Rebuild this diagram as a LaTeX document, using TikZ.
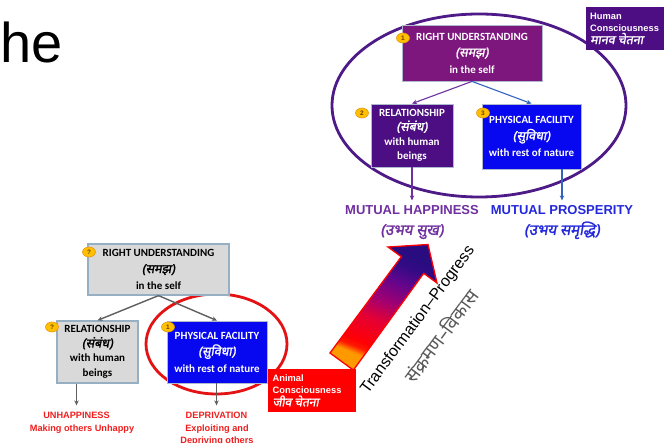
\documentclass[tikz,border=0pt]{standalone}
\usepackage{fontspec}
\usetikzlibrary{shapes.geometric,arrows.meta,calc}
\newfontfamily\arialf{Liberation Sans}
\newfontfamily\calib{Carlito}
\newfontfamily\deva[Script=Devanagari]{Noto Sans}
\newfontfamily\devai[Script=Devanagari,FakeSlant=0.18,FakeBold=1.6]{Noto Sans}
\definecolor{rupurple}{RGB}{125,22,125}
\definecolor{indigoA}{RGB}{76,14,130}
\definecolor{boxblue}{RGB}{8,8,240}
\definecolor{ellpurple}{RGB}{78,26,135}
\definecolor{mhpurple}{RGB}{112,48,160}
\definecolor{mpblue}{RGB}{35,40,220}
\definecolor{arrowpurple}{RGB}{110,50,160}
\definecolor{arrowblue}{RGB}{50,100,190}
\definecolor{redtxt}{RGB}{240,30,30}
\definecolor{ellred}{RGB}{228,18,18}
\definecolor{greyfill}{RGB}{217,217,217}
\definecolor{greyedge}{RGB}{150,175,195}
\definecolor{greyarrow}{RGB}{95,95,95}
\definecolor{badgefill}{RGB}{255,192,0}
\definecolor{badgeedge}{RGB}{225,150,20}
\definecolor{badgetxt}{RGB}{110,60,0}
\definecolor{devagrey}{RGB}{90,90,90}
\definecolor{paleedge}{RGB}{175,185,205}
\pgfdeclareverticalshading{progshade}{100bp}{rgb(0bp)=(1,0.6,0); rgb(27.8bp)=(1,0.6,0); rgb(30.6bp)=(1,0.1,0); rgb(33.3bp)=(1,0,0.02); rgb(43.9bp)=(0.9,0,0.2); rgb(53.1bp)=(0.62,0,0.45); rgb(62.3bp)=(0.38,0.02,0.55); rgb(69.2bp)=(0.2,0.04,0.52); rgb(73.8bp)=(0.16,0.05,0.5); rgb(100bp)=(0.16,0.05,0.5)}
\newcommand{\dvi}[2]{{\mdseries\devai\fontsize{#1}{#1}\selectfont #2}}
\begin{document}
\begin{tikzpicture}[x=1pt,y=-1pt,
  box3/.style={rectangle, inner sep=0pt, align=center, text=white, line width=0.8pt,
    font={\calib\bfseries\fontsize{11}{16.5}\selectfont\lineskiplimit=-100pt\relax}},
  box4/.style={rectangle, inner sep=0pt, align=center, text=white, line width=0.8pt,
    font={\calib\bfseries\fontsize{11}{14.5}\selectfont\lineskiplimit=-100pt\relax}},
  badge/.style={ellipse, fill=badgefill, draw=badgeedge, line width=0.6pt, inner sep=0pt,
    minimum width=13pt, minimum height=10pt, text=badgetxt, font=\arialf\bfseries\fontsize{6.5}{7}\selectfont},
  consbox/.style={rectangle, anchor=west, text=white, align=left, text width=78pt, inner xsep=4pt, inner ysep=0pt,
    minimum height=43pt, font={\arialf\bfseries\fontsize{9.3}{12.5}\selectfont\lineskiplimit=-100pt\relax}},
  redline/.style={anchor=base, inner sep=0pt, text=redtxt, font=\arialf\bfseries\fontsize{9.2}{11}\selectfont},
  parrow/.style={draw=arrowpurple, line width=1.1pt, -{Stealth[length=5pt,width=4.5pt]}},
  barrow/.style={draw=arrowblue, line width=1.1pt, -{Stealth[length=5pt,width=4.5pt]}},
  garrow/.style={draw=greyarrow, line width=1.4pt, -{Stealth[length=5pt,width=4.5pt]}}
]
\fill[white] (0,0) rectangle (664,443);
\useasboundingbox (0,0) rectangle (664,443);

% title fragment
\node[anchor=base west, inner sep=0pt, font=\arialf\fontsize{56}{60}\selectfont] (he) at (0,63) {he};

% ---------- top (human consciousness) ----------
\node[ellipse, draw=ellpurple, line width=2.8pt, inner sep=0pt, minimum width=294pt, minimum height=183pt] (hell) at (479,105.5) {};

\node[box3, fill=rupurple, draw=paleedge, minimum width=140pt, minimum height=56pt] (ru) at (472,53)
  {RIGHT UNDERSTANDING\\\dvi{12.5}{(समझ)}\\in the self};
\node[box4, fill=indigoA, draw=paleedge, minimum width=82pt, minimum height=63pt] (rel) at (412,135.5)
  {RELATIONSHIP\\\dvi{12.5}{(संबंध)}\\with human\\beings};
\node[box3, fill=boxblue, draw=paleedge, minimum width=99pt, minimum height=65pt] (phys) at (531.5,136.5)
  {PHYSICAL FACILITY\\\dvi{12.5}{(सुविधा)}\\with rest of nature};

\node[badge] (bt1) at (403,38) {1};
\node[badge] (bt2) at (362,113) {2};
\node[badge] (bt3) at (483,113) {3};

\node[consbox, fill=indigoA] (hum) at (586,28.5) {Human\\Consciousness\\\dvi{12.5}{मानव चेतना}};

\node[anchor=base, inner sep=0pt, text=mhpurple, font=\arialf\bfseries\fontsize{13}{15}\selectfont] (mh1) at (412,214.7) {MUTUAL HAPPINESS};
\node[anchor=base, inner sep=0pt, text=mhpurple] (mh2) at (412,235) {\dvi{15}{(उभय सुख)}};
\node[anchor=base, inner sep=0pt, text=mpblue, font=\arialf\bfseries\fontsize{13}{15}\selectfont] (mp1) at (562,214.7) {MUTUAL PROSPERITY};
\node[anchor=base, inner sep=0pt, text=mpblue] (mp2) at (562,235) {\dvi{15}{(उभय समृद्धि)}};

\draw[parrow] (ru.south) -- (rel.north);
\draw[barrow] (ru.south) -- (phys.north);
\draw[parrow, shorten >=5pt] (rel.south -| mh1.north) -- (mh1.north);
\draw[barrow, shorten >=5pt] (phys.south -| mp1.north) -- (mp1.north);

% ---------- bottom (animal consciousness) ----------
\node[ellipse, draw=ellred, line width=2.8pt, inner sep=0pt, minimum width=141pt, minimum height=100pt] (rell) at (216.5,344) {};

\node[box3, text=black, fill=greyfill, draw=greyedge, line width=1.2pt, minimum width=141pt, minimum height=51pt] (gru) at (158.5,269.5)
  {RIGHT UNDERSTANDING\\\dvi{12.5}{(समझ)}\\in the self};
\node[box4, text=black, fill=greyfill, draw=greyedge, line width=1.2pt, minimum width=81pt, minimum height=62pt] (grel) at (97.5,352)
  {RELATIONSHIP\\\dvi{12.5}{(संबंध)}\\with human\\beings};
\node[box3, fill=boxblue, draw=paleedge, minimum width=100pt, minimum height=62pt] (gphys) at (217,352)
  {PHYSICAL FACILITY\\\dvi{12.5}{(सुविधा)}\\with rest of nature};

\node[badge] (bq1) at (89,252) {?};
\node[badge] (bq2) at (52,327) {?};
\node[badge] (bb1) at (168,327) {1};

\node[consbox, fill=red, text width=79pt, inner xsep=4.5pt] (ani) at (268,390.5) {Animal\\Consciousness\\\dvi{12}{जीव चेतना}};

\node[redline] (unh1) at (76.5,418) {UNHAPPINESS};
\node[redline] (unh2) at (82,431.2) {Making others Unhappy};
\node[redline] (dep1) at (216.5,418) {DEPRIVATION};
\node[redline] (dep2) at (217,431.2) {Exploiting and};
\node[redline] (dep3) at (217,443.6) {Depriving others};

\draw[garrow] (gru.south) -- (grel.north);
\draw[garrow] (gru.south) -- (gphys.north);
\draw[garrow, shorten >=6pt] (grel.south -| unh1.north) -- (unh1.north);
\draw[garrow, shorten >=6pt] (gphys.south -| dep1.north) -- (dep1.north);

% ---------- transformation arrow ----------
\coordinate (tl) at (330,353);
\coordinate (sl) at (401.3,256.7);
\coordinate (hl) at (388,247);
\coordinate (tip) at (428,244.5);
\coordinate (hr) at (437,283);
\coordinate (sr) at (423.7,273.3);
\coordinate (tr) at (353.4,370.1);
\shadedraw[shading=progshade, shading angle=-22, draw=red, line width=1.3pt, line join=miter]
  (tl) -- (sl) -- (hl) -- (tip) -- (hr) -- (sr) -- (tr) -- cycle;

\node[rotate=53.5, inner sep=0pt, font=\arialf\fontsize{16}{18}\selectfont] (trans) at (418,320) {Transformation–Progress};
\node[rotate=53.5, inner sep=0pt, text=devagrey, font=\deva\fontsize{19}{21}\selectfont] (transd) at (440.5,335.8) {संक्रमण–विकास};
\end{tikzpicture}
\end{document}
